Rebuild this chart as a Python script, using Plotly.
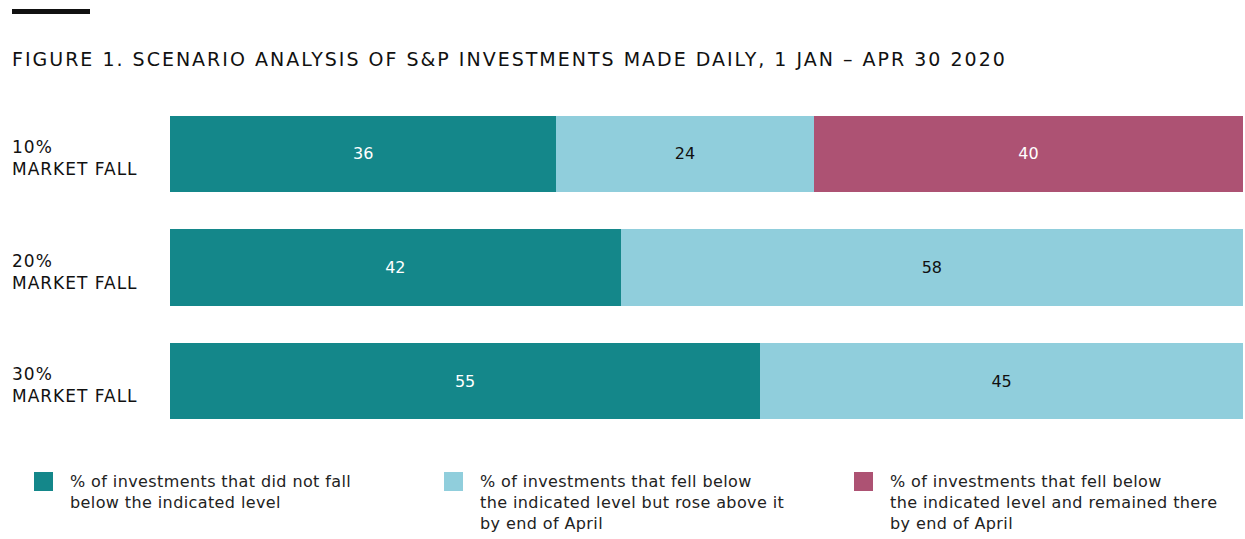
import plotly.graph_objects as go

categories = ["10%<br>MARKET FALL", "20%<br>MARKET FALL", "30%<br>MARKET FALL"]
did_not_fall = [36, 42, 55]
fell_rose = [24, 58, 45]
fell_remained = [40, None, None]
series_names = [
    "% of investments that did not fall<br>below the indicated level",
    "% of investments that fell below<br>the indicated level but rose above it<br>by end of April",
    "% of investments that fell below<br>the indicated level and remained there<br>by end of April",
]
title_text = "FIGURE 1. SCENARIO ANALYSIS OF S&P INVESTMENTS MADE DAILY, 1 JAN \u2013 APR 30 2020"

colors = ["#14878A", "#90CEDC", "#AD5273"]
text_colors = ["white", "#111111", "white"]
FONT = "DejaVu Sans"


def spaced(text, px):
    return "<br>".join(f'<span style="letter-spacing:{px}px">{line}</span>' for line in text.split("<br>"))


fig = go.Figure()
for vals, name, c, tc in zip([did_not_fall, fell_rose, fell_remained], series_names, colors, text_colors):
    fig.add_trace(go.Bar(
        y=categories, x=vals, orientation="h", name=name,
        marker=dict(color=c, line=dict(width=0)),
        text=[str(v) if v is not None else "" for v in vals],
        textposition="inside", insidetextanchor="middle",
        textfont=dict(color=tc, size=16, family=FONT),
        showlegend=False, hoverinfo="skip",
    ))

fig.update_layout(
    barmode="stack",
    bargap=0.33,
    width=1245, height=539,
    margin=dict(l=170, r=2, t=97, b=101),
    paper_bgcolor="white", plot_bgcolor="white",
    font=dict(family=FONT, color="#111111"),
    xaxis=dict(range=[0, 100], visible=False, fixedrange=True),
    yaxis=dict(autorange="reversed", showticklabels=False, showgrid=False, zeroline=False),
    uniformtext=dict(minsize=10),
)

# top black rule
fig.add_shape(type="rect", xref="paper", yref="paper",
              x0=(12 - 170) / 1073, x1=(90 - 170) / 1073,
              y0=(539 - 101 - 14) / 341, y1=(539 - 101 - 9) / 341,
              fillcolor="#111111", line=dict(width=0))

# title
fig.add_annotation(text=spaced(title_text, 2), xref="paper", yref="paper",
                   x=(10 - 170) / 1073, y=(539 - 101 - 46) / 341,
                   xanchor="left", yanchor="top", showarrow=False, align="left",
                   font=dict(size=19, family=FONT, color="#111111"))

# category labels
for cat in categories:
    fig.add_annotation(text=spaced(cat, 1), xref="paper", yref="y",
                       x=(10 - 170) / 1073, y=cat, xanchor="left", yanchor="middle",
                       yshift=-4, showarrow=False, align="left",
                       font=dict(size=17, family=FONT, color="#111111"))

# legend
sq_x = [34, 444, 854]
txt_x = [68, 478, 888]
for sx, tx, name, c in zip(sq_x, txt_x, series_names, colors):
    fig.add_shape(type="rect", xref="paper", yref="paper",
                  x0=(sx - 170) / 1073, x1=(sx + 19 - 170) / 1073,
                  y0=(539 - 101 - 491) / 341, y1=(539 - 101 - 472) / 341,
                  fillcolor=c, line=dict(width=0))
    fig.add_annotation(text=spaced(name, 0.4), xref="paper", yref="paper",
                       x=(tx - 170) / 1073, y=(539 - 101 - 470) / 341,
                       xanchor="left", yanchor="top", showarrow=False, align="left",
                       font=dict(size=16, family=FONT, color="#222222"))

fig.write_html("out.html", config={"displayModeBar": False},
               post_script="document.body.style.margin='0';document.body.style.overflow='hidden';")
